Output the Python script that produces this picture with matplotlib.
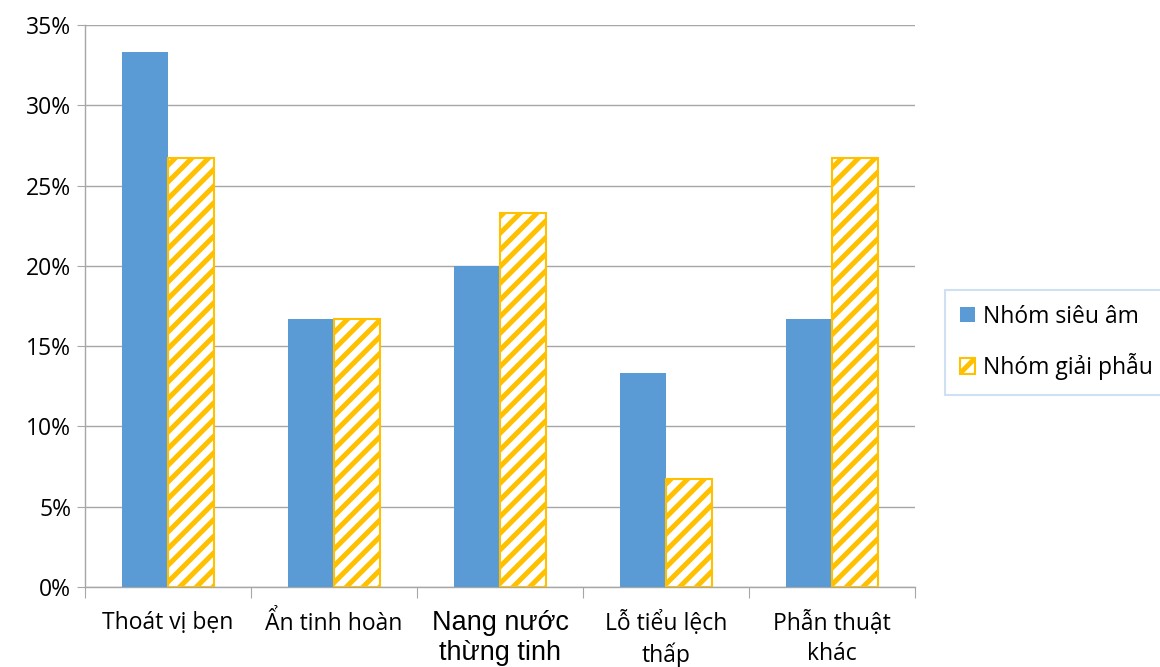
import matplotlib
matplotlib.use("Agg")
import matplotlib.pyplot as plt
import numpy as np
from matplotlib.ticker import FuncFormatter, MultipleLocator

categories = ["Thoát vị bẹn", "Ẩn tinh hoàn", "Nang nước\nthừng tinh", "Lỗ tiểu lệch\nthấp", "Phẫn thuật\nkhác"]
sieu_am = [33.3, 16.7, 20.0, 13.3, 16.7]
giai_phau = [26.7, 16.7, 23.3, 6.7, 26.7]
series_names = ["Nhóm siêu âm", "Nhóm giải phẫu"]

plt.rcParams['hatch.linewidth'] = 3.6
plt.rcParams['font.family'] = ['Open Sans', 'DejaVu Sans']

fig = plt.figure(figsize=(11.6, 6.67), dpi=100)
ax = fig.add_axes([85/1160, 1 - 587/667, 830/1160, 562/667])

x = np.arange(len(categories))
w = 0.28
blue = "#5B9BD5"
gold = "#FFC000"
ax.bar(x - w/2, sieu_am, w, color=blue, label=series_names[0], zorder=3)
ax.bar(x + w/2, giai_phau, w, facecolor="white", edgecolor=gold, hatch="//",
       linewidth=1.5, label=series_names[1], zorder=3)

ax.set_xlim(-0.5, len(categories) - 0.5)
ax.set_ylim(0, 35)
ax.yaxis.set_major_locator(MultipleLocator(5))
ax.yaxis.set_major_formatter(FuncFormatter(lambda v, p: f"{int(round(v))}%"))
ax.grid(axis='y', color="#A6A6A6", linewidth=1, zorder=0)
for s in ["top", "right"]:
    ax.spines[s].set_visible(False)
for s in ["left", "bottom"]:
    ax.spines[s].set_color("#A6A6A6")
    ax.spines[s].set_linewidth(1)
ax.tick_params(axis='y', length=6, color="#A6A6A6", labelsize=16.5, pad=4)
ax.set_xticks(np.arange(-0.5, len(categories), 1.0))
ax.set_xticklabels([])
ax.tick_params(axis='x', length=8, color="#A6A6A6", direction='out')
for i, c in enumerate(categories):
    if i == 2:
        fam, fs, ls, y0 = ['Liberation Sans', 'DejaVu Sans'], 19.5, 1.2, -1.45
    else:
        fam, fs, ls, y0 = ['Open Sans', 'DejaVu Sans'], 16.5, 1.33, -1.5
    ax.text(i, y0, c, ha='center', va='top', fontsize=fs, family=fam,
            linespacing=ls, transform=ax.transData)

leg = fig.legend(loc='upper left', bbox_to_anchor=(945/1160, 1 - 290/667),
                 frameon=True, fontsize=16.5, handlelength=0.65, handleheight=0.65,
                 handletextpad=0.35, labelspacing=1.05, borderpad=0.65,
                 fancybox=False, borderaxespad=0)
leg.get_frame().set_edgecolor("#C5D9F1")
leg.get_frame().set_linewidth(1.5)

fig.savefig("out.png", dpi=100)
